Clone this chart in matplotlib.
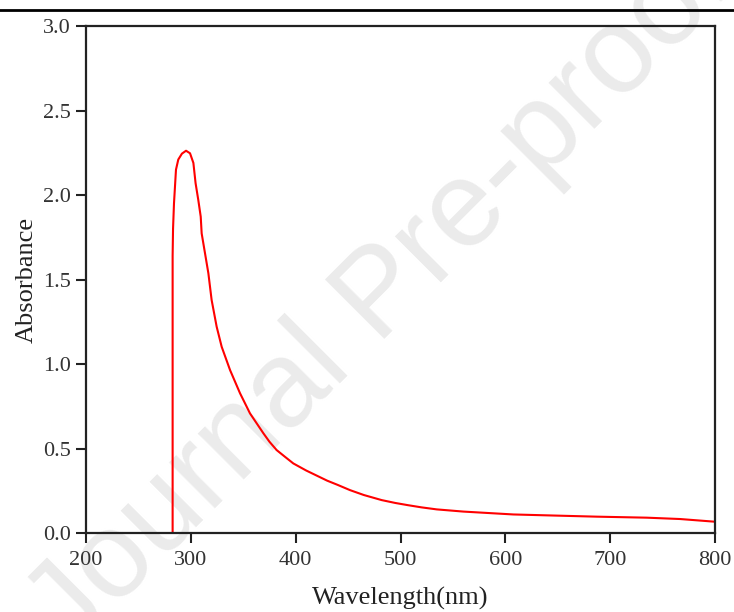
import numpy as np
import matplotlib.pyplot as plt
from matplotlib.lines import Line2D

# UV-Vis absorption spectrum
wavelength = [282.6, 282.6, 283.0, 283.9, 285.8, 288.0, 291.5, 295.4, 299.2, 302.4,
              304.5, 307.1, 309.4, 310.3, 313.5, 316.7, 319.8, 324.6, 329.4, 337.4,
              346.9, 356.4, 369.2, 375.0, 381.8, 390.0, 397.7, 410.0, 420.0, 430.0,
              440.0, 451.8, 465.0, 482.0, 495.0, 507.0, 520.0, 534.5, 560.0, 607.6,
              650.0, 687.0, 734.8, 766.6, 800.0]
absorbance = [0.0, 1.64, 1.80, 1.95, 2.15, 2.21, 2.245, 2.262, 2.247, 2.19,
              2.07, 1.97, 1.872, 1.773, 1.655, 1.537, 1.379, 1.221, 1.102, 0.964,
              0.827, 0.708, 0.590, 0.540, 0.491, 0.450, 0.412, 0.370, 0.340, 0.310,
              0.285, 0.254, 0.225, 0.195, 0.178, 0.165, 0.152, 0.140, 0.127, 0.110,
              0.103, 0.097, 0.091, 0.083, 0.067]

x_ticks = [200, 300, 400, 500, 600, 700, 800]
y_ticks = [0.0, 0.5, 1.0, 1.5, 2.0, 2.5, 3.0]

plt.rcParams['font.family'] = ['Liberation Serif', 'DejaVu Serif']

fig = plt.figure(figsize=(7.34, 6.12), dpi=100)
ax = fig.add_axes([0.1172, 0.129, 0.857, 0.8285])
ax.patch.set_alpha(0)

ax.plot(wavelength, absorbance, color='#ff0000', lw=1.5)

ax.set_xlim(200, 800)
ax.set_ylim(0, 3.0)
ax.set_xticks(x_ticks)
ax.set_yticks(y_ticks)
ax.set_yticklabels([f'{v:.1f}' for v in y_ticks])
ax.tick_params(direction='out', length=7, width=1.5, labelsize=16,
               top=False, right=False, colors='#222222', labelcolor='#333333')
ax.tick_params(axis='x', pad=6)
ax.tick_params(axis='y', pad=4)
for s in ax.spines.values():
    s.set_linewidth(1.6)
    s.set_color('#222222')

ax.set_xlabel('Wavelength(nm)', fontsize=19, labelpad=12, color='#222222')
ax.set_ylabel('Absorbance', fontsize=19, labelpad=4, color='#222222')

# page rule at the top
fig.add_artist(Line2D([0, 1], [0.9837, 0.9837], transform=fig.transFigure,
                      color='black', lw=2))

# watermark
fig.text(0.52, 0.515, 'Journal Pre-proof', rotation=45, ha='center', va='center',
         fontsize=88, color='#ebebeb', family=['Liberation Sans', 'DejaVu Sans'],
         zorder=-1)

fig.savefig('out.png', dpi=100)
